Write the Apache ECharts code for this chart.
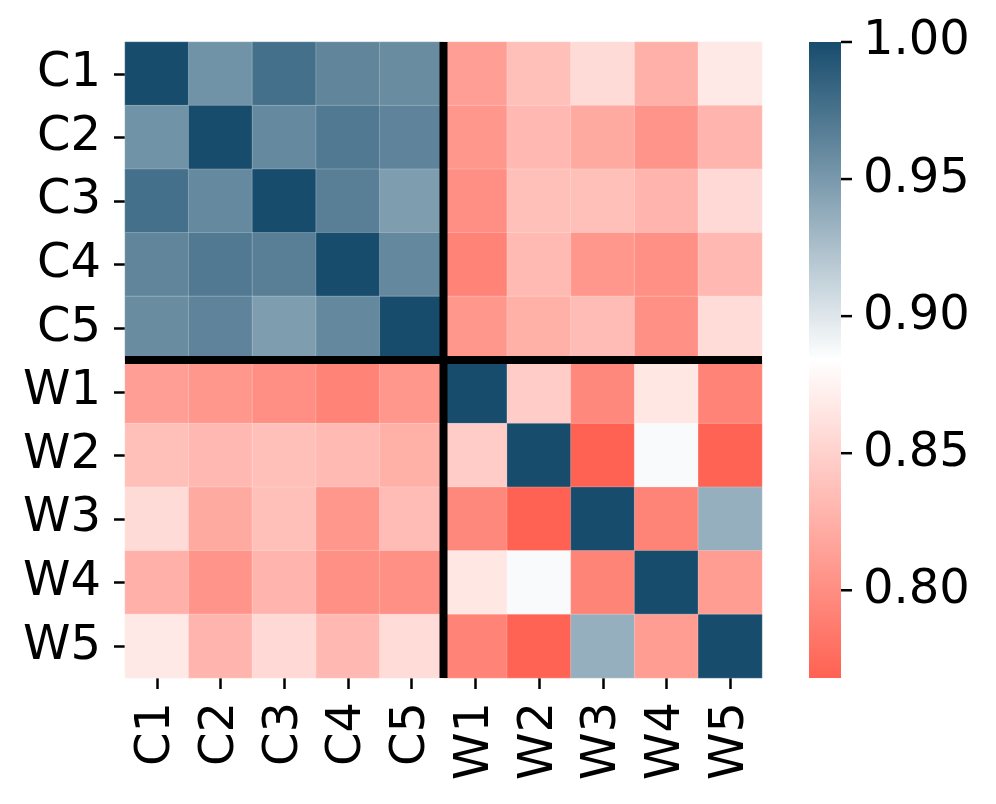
<!DOCTYPE html>
<html>
<head>
<meta charset="utf-8">
<script src="https://cdn.jsdelivr.net/npm/echarts@6/dist/echarts.min.js"></script>
<style>
	html, body { margin: 0; padding: 0; background: #fff; }
	#main { width: 996px; height: 804px; }
</style>
</head>
<body>
<div id="main"></div>
<script>
	var labels = ['C1', 'C2', 'C3', 'C4', 'C5', 'W1', 'W2', 'W3', 'W4', 'W5'];

	// correlation rows, same order as labels
	var rowC1 = [1, 0.954, 0.9765, 0.9625, 0.9585, 0.812, 0.837, 0.857, 0.826, 0.868];
	var rowC2 = [0.954, 1, 0.9605, 0.9705, 0.964, 0.807, 0.832, 0.821, 0.805, 0.829];
	var rowC3 = [0.9765, 0.9605, 1, 0.9665, 0.9475, 0.801, 0.837, 0.837, 0.829, 0.856];
	var rowC4 = [0.9625, 0.9705, 0.9665, 1, 0.961, 0.792, 0.833, 0.807, 0.802, 0.832];
	var rowC5 = [0.9585, 0.964, 0.9475, 0.961, 1, 0.807, 0.825, 0.8345, 0.802, 0.858];
	var rowW1 = [0.812, 0.807, 0.801, 0.792, 0.807, 1, 0.846, 0.796, 0.866, 0.792];
	var rowW2 = [0.837, 0.832, 0.837, 0.833, 0.825, 0.846, 1, 0.768, 0.8875, 0.769];
	var rowW3 = [0.857, 0.821, 0.837, 0.807, 0.8345, 0.796, 0.768, 1, 0.793, 0.9355];
	var rowW4 = [0.826, 0.805, 0.829, 0.802, 0.802, 0.866, 0.8875, 0.793, 1, 0.811];
	var rowW5 = [0.868, 0.829, 0.856, 0.832, 0.858, 0.792, 0.769, 0.9355, 0.811, 1];
	var rows = [rowC1, rowC2, rowC3, rowC4, rowC5, rowW1, rowW2, rowW3, rowW4, rowW5];

	var cbarTicks = [0.80, 0.85, 0.90, 0.95, 1.00];

	// low -> high, evenly spaced over [min, max]
	var palette = ['#ff6252', '#ffb1a9', '#ffffff', '#89a5b6', '#174c6d'];

	var fontFamily = 'DejaVu Sans';
	var fontSize = 48;
	var heatData = [];
	var vMin = 1, vMax = -1;
	for(var i = 0; i < rows.length; i++) {
		for(var j = 0; j < rows[i].length; j++) {
			heatData.push([j, i, rows[i][j]]);
			if(rows[i][j] < vMin) vMin = rows[i][j];
			if(rows[i][j] > vMax) vMax = rows[i][j];
		}
	}

	var chart = echarts.init(document.getElementById('main'), null, {renderer: 'canvas'});

	var option = {
		backgroundColor: '#ffffff',
		animation: false,
		textStyle: {fontFamily: fontFamily},
		grid: [{
			left: 125, top: 42, width: 637, height: 636
		}, {
			left: 809, top: 42, width: 32, height: 636
		}],
		xAxis: [{
			type: 'category',
			gridIndex: 0,
			data: labels,
			position: 'bottom',
			axisLine: {show: false},
			axisTick: {show: true, alignWithLabel: true, length: 11, lineStyle: {color: '#000', width: 2.5}},
			axisLabel: {rotate: 90, fontSize: fontSize, color: '#000', margin: 24, fontFamily: fontFamily},
			splitLine: {show: false}
		}, {
			type: 'value',
			gridIndex: 1,
			show: false,
			min: 0,
			max: 1
		}],
		yAxis: [{
			type: 'category',
			gridIndex: 0,
			data: labels,
			inverse: true,
			axisLine: {show: false},
			axisTick: {show: true, alignWithLabel: true, length: 11, lineStyle: {color: '#000', width: 2.5}},
			axisLabel: {fontSize: fontSize, color: '#000', margin: 24, fontFamily: fontFamily},
			splitLine: {show: false}
		}, {
			type: 'value',
			gridIndex: 1,
			position: 'right',
			min: vMin,
			max: vMax,
			axisLine: {show: false},
			splitLine: {show: false},
			axisTick: {show: false},
			axisLabel: {
				show: true,
				customValues: cbarTicks,
				fontSize: fontSize,
				color: '#000',
				margin: 22,
				fontFamily: fontFamily,
				formatter: function(v) { return v.toFixed(2); }
			}
		}],
		visualMap: {
			type: 'continuous',
			seriesIndex: 0,
			min: vMin,
			max: vMax,
			show: false,
			inRange: {color: palette}
		},
		series: [{
			type: 'heatmap',
			xAxisIndex: 0,
			yAxisIndex: 0,
			data: heatData,
			itemStyle: {borderColor: 'rgba(255,255,255,0.22)', borderWidth: 1},
			emphasis: {disabled: true}
		}, {
			type: 'scatter',
			xAxisIndex: 1,
			yAxisIndex: 1,
			data: [],
			silent: true
		}]
	};
	chart.setOption(option);

	// separators between C and W blocks, colorbar gradient and its ticks
	function addGraphics() {
		var x0 = chart.convertToPixel({xAxisIndex: 0}, labels[0]);
		var x1 = chart.convertToPixel({xAxisIndex: 0}, labels[1]);
		var y0 = chart.convertToPixel({yAxisIndex: 0}, labels[0]);
		var y1 = chart.convertToPixel({yAxisIndex: 0}, labels[1]);
		var sx = x1 - x0, sy = y1 - y0;
		var n = labels.length;
		var left = x0 - sx / 2, right = left + sx * n;
		var top = y0 - sy / 2, bottom = top + sy * n;
		var midX = (chart.convertToPixel({xAxisIndex: 0}, 'C5') + chart.convertToPixel({xAxisIndex: 0}, 'W1')) / 2;
		var midY = (chart.convertToPixel({yAxisIndex: 0}, 'C5') + chart.convertToPixel({yAxisIndex: 0}, 'W1')) / 2;

		var cbL = chart.convertToPixel({xAxisIndex: 1}, 0);
		var cbR = chart.convertToPixel({xAxisIndex: 1}, 1);
		var cbT = chart.convertToPixel({yAxisIndex: 1}, vMax);
		var cbB = chart.convertToPixel({yAxisIndex: 1}, vMin);
		var stops = [];
		for(var k = 0; k < palette.length; k++) {
			stops.push({offset: k / (palette.length - 1), color: palette[palette.length - 1 - k]});
		}

		var elements = [{
			type: 'rect',
			shape: {x: cbL, y: cbT, width: cbR - cbL, height: cbB - cbT},
			style: {fill: new echarts.graphic.LinearGradient(0, 0, 0, 1, stops)},
			z: 1
		}, {
			type: 'line',
			shape: {x1: midX, y1: top, x2: midX, y2: bottom},
			style: {stroke: '#000', lineWidth: 8},
			z: 100
		}, {
			type: 'line',
			shape: {x1: left, y1: midY, x2: right, y2: midY},
			style: {stroke: '#000', lineWidth: 8},
			z: 100
		}];
		for(var t = 0; t < cbarTicks.length; t++) {
			var ty = chart.convertToPixel({yAxisIndex: 1}, cbarTicks[t]);
			elements.push({
				type: 'line',
				shape: {x1: cbR, y1: ty, x2: cbR + 11, y2: ty},
				style: {stroke: '#000', lineWidth: 2.5},
				z: 100
			});
		}
		chart.setOption({graphic: elements});
	}
	addGraphics();
</script>
</body>
</html>
